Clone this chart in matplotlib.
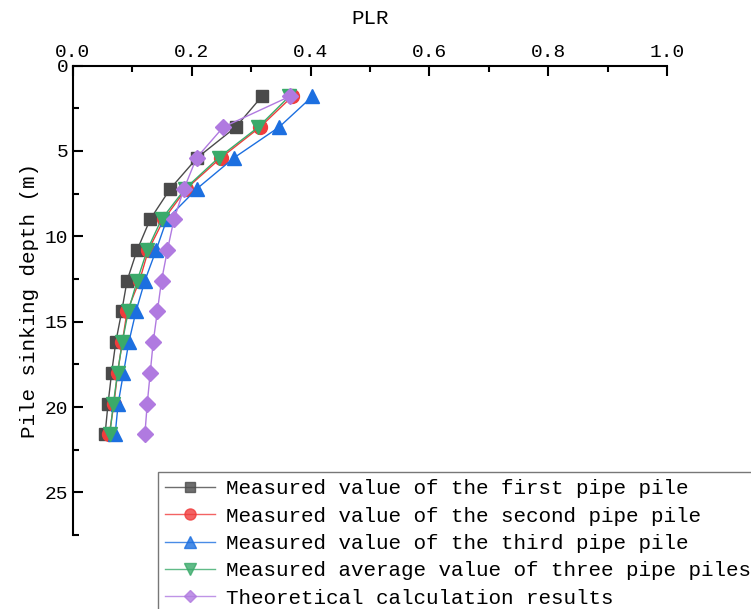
import matplotlib
matplotlib.use('Agg')
import matplotlib.pyplot as plt
from matplotlib.ticker import MultipleLocator

depth = [1.8, 3.6, 5.4, 7.2, 9.0, 10.8, 12.6, 14.4, 16.2, 18.0, 19.8, 21.6]
first_pile = [0.318, 0.274, 0.209, 0.164, 0.130, 0.108, 0.091, 0.082, 0.072, 0.065, 0.059, 0.054]
second_pile = [0.369, 0.315, 0.249, 0.191, 0.153, 0.127, 0.112, 0.091, 0.083, 0.075, 0.069, 0.061]
third_pile = [0.403, 0.347, 0.271, 0.209, 0.158, 0.140, 0.121, 0.106, 0.094, 0.085, 0.076, 0.071]
average = [0.364, 0.312, 0.245, 0.189, 0.149, 0.125, 0.108, 0.093, 0.083, 0.075, 0.068, 0.062]
theory = [0.365, 0.253, 0.208, 0.187, 0.170, 0.159, 0.149, 0.142, 0.135, 0.130, 0.125, 0.121]

labels = ['Measured value of the first pipe pile',
          'Measured value of the second pipe pile',
          'Measured value of the third pipe pile',
          'Measured average value of three pipe piles',
          'Theoretical calculation results']

plt.rcParams['font.family'] = ['Liberation Mono', 'DejaVu Sans']

fig = plt.figure(figsize=(7.51, 6.09), dpi=100)
ax = fig.add_axes([0.0972, 0.1215, 0.7910, 0.7707])

series = [
    (first_pile, '#4a4a4a', 's', 9),
    (second_pile, '#f03c3c', 'o', 10),
    (third_pile, '#1c6fe0', '^', 10),
    (average, '#3aaa6a', 'v', 10),
    (theory, '#b07ae0', 'D', 8),
]
for (vals, c, m, ms), lab in zip(series, labels):
    ax.plot(vals, depth, color=c, marker=m, markersize=ms, linewidth=1,
            label=lab)

ax.set_xlim(0, 1.0)
ax.set_ylim(27.5, 0)
ax.xaxis.tick_top()
ax.xaxis.set_label_position('top')
ax.spines['right'].set_visible(False)
ax.spines['bottom'].set_visible(False)
ax.spines['top'].set_linewidth(1.5)
ax.spines['left'].set_linewidth(1.5)
ax.xaxis.set_major_locator(MultipleLocator(0.2))
ax.xaxis.set_minor_locator(MultipleLocator(0.1))
ax.yaxis.set_major_locator(MultipleLocator(5))
ax.yaxis.set_minor_locator(MultipleLocator(2.5))
ax.set_xticks([0, 0.2, 0.4, 0.6, 0.8, 1.0])
ax.set_xticklabels(['0.0', '0.2', '0.4', '0.6', '0.8', '1.0'])
ax.tick_params(which='both', direction='in', width=1.5, labelsize=14, top=True, bottom=False,
               left=True, right=False, labeltop=True, labelbottom=False)
ax.tick_params(which='major', length=7)
ax.tick_params(which='minor', length=4)
ax.set_xlabel('PLR', fontsize=15, labelpad=14)
ax.set_ylabel('Pile sinking depth (m)', fontsize=15, labelpad=4)

leg = ax.legend(loc='upper left', bbox_to_anchor=(158 / 751, 1 - 472 / 609),
                bbox_transform=fig.transFigure, fontsize=15, frameon=True,
                fancybox=False, edgecolor='#555555', handlelength=2.4,
                labelspacing=0.4, borderpad=0.35, handletextpad=0.5,
                borderaxespad=0, markerscale=0.8)
for line in leg.get_lines():
    line.set_alpha(0.8)

fig.savefig('out.png', dpi=100)
